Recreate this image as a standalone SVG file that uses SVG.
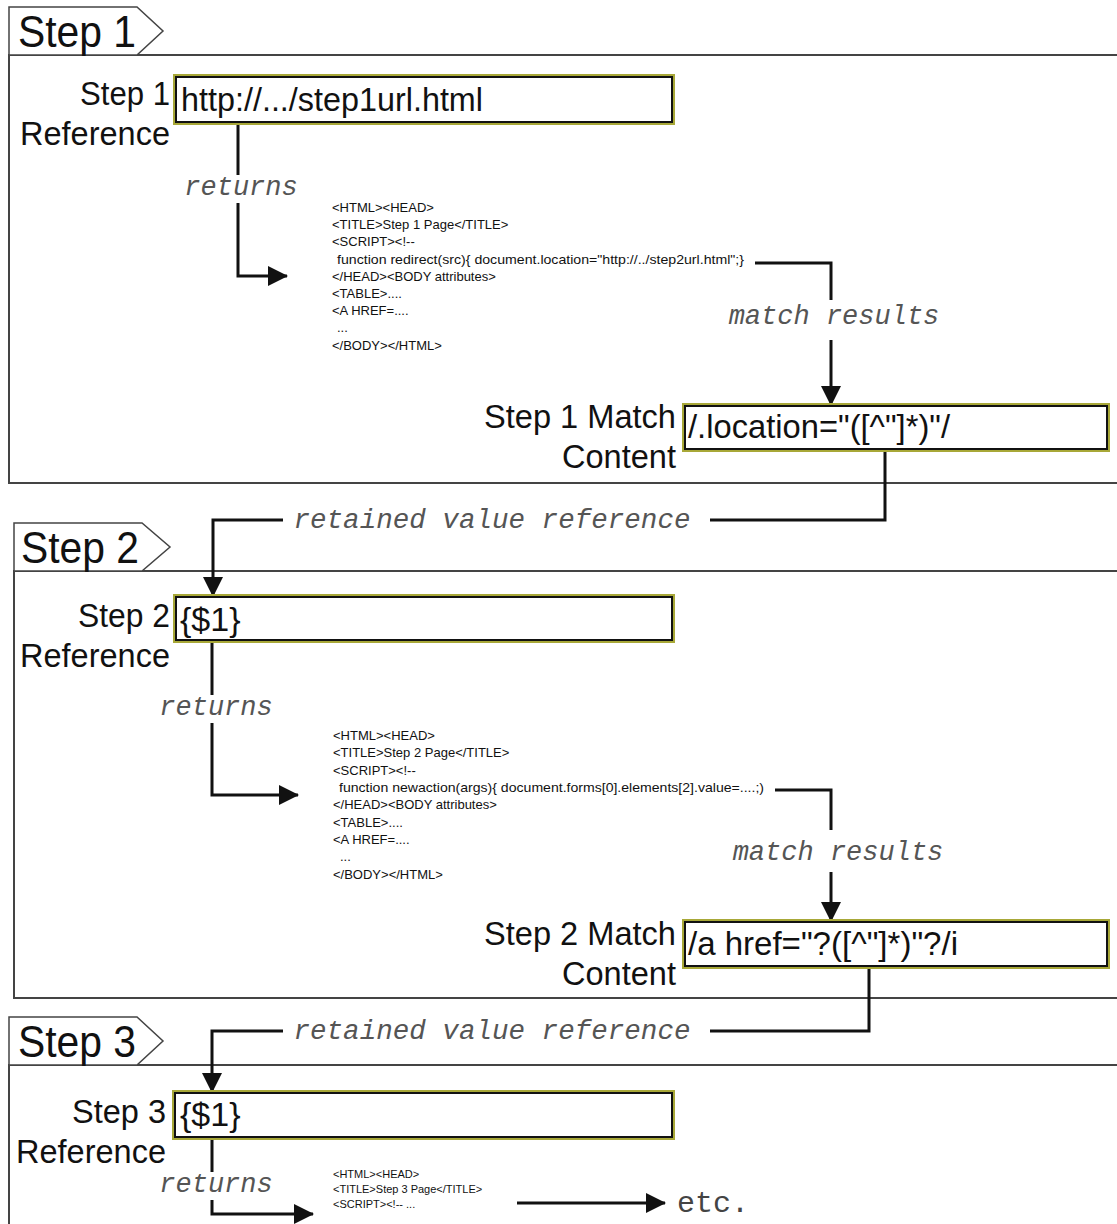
<svg xmlns="http://www.w3.org/2000/svg" width="1117" height="1224" viewBox="0 0 1117 1224">
<style>
.frame{fill:none;stroke:#444;stroke-width:2}
.tab{fill:#fff;stroke:#444;stroke-width:1.5}
.tabt{font-family:"Liberation Sans",Arial,sans-serif;font-size:45px;fill:#111}
.lbl{font-family:"Liberation Sans",Arial,sans-serif;font-size:33px;fill:#111;text-anchor:end}
.boxo{fill:#fff;stroke:#a8a838;stroke-width:4}
.boxi{fill:none;stroke:#111;stroke-width:2}
.boxt{font-family:"Liberation Sans",Arial,sans-serif;font-size:34px;fill:#111}
.html{font-family:"Liberation Sans",Arial,sans-serif;font-size:13px;fill:#111}
.html3{font-family:"Liberation Sans",Arial,sans-serif;font-size:11px;fill:#111}
.mono{font-family:"Liberation Mono","Courier New",monospace;font-style:italic;font-size:27px;fill:#555}
.etc{font-family:"Liberation Mono","Courier New",monospace;font-size:30px;fill:#444}
.ln{fill:none;stroke:#111;stroke-width:3}
</style>
<defs>
<marker id="ahb" viewBox="0 0 20 20" markerWidth="20" markerHeight="20" refX="19" refY="10" orient="auto" markerUnits="userSpaceOnUse">
<path d="M0,0 L20,10 L0,20 Z" fill="#111"/>
</marker>
</defs>
<rect width="1117" height="1224" fill="#fff"/>

<g id="section1">
<path class="frame" d="M1117,55 H9 V483 H1117"/>
<polygon class="tab" points="9,7 137,7 163,31 137,55 9,55"/>
<text class="tabt" x="18" y="47" textLength="118" lengthAdjust="spacingAndGlyphs">Step 1</text>
</g>
<g id="section2">
<path class="frame" d="M1117,571 H14 V998 H1117"/>
<polygon class="tab" points="14,523 142,523 170,547 142,571 14,571"/>
<text class="tabt" x="21" y="563" textLength="118" lengthAdjust="spacingAndGlyphs">Step 2</text>
</g>
<g id="section3">
<path class="frame" d="M1117,1065 H9 V1224"/>
<polygon class="tab" points="9,1017 137,1017 163,1041 137,1065 9,1065"/>
<text class="tabt" x="18" y="1057" textLength="118" lengthAdjust="spacingAndGlyphs">Step 3</text>
</g>

<g id="connectors">
<path class="ln" d="M238,123 V175"/>
<path class="ln" d="M238,203 V276 H287" marker-end="url(#ahb)"/>
<path class="ln" d="M755,263 H831 V300"/>
<path class="ln" d="M831,340 V405" marker-end="url(#ahb)"/>
<path class="ln" d="M885,450 V520 H710"/>
<path class="ln" d="M283,520 H213 V596" marker-end="url(#ahb)"/>
<path class="ln" d="M212,641 V695"/>
<path class="ln" d="M212,723 V795 H298" marker-end="url(#ahb)"/>
<path class="ln" d="M775,790 H831 V830"/>
<path class="ln" d="M831,872 V921" marker-end="url(#ahb)"/>
<path class="ln" d="M869,967 V1031 H710"/>
<path class="ln" d="M283,1031 H212 V1092" marker-end="url(#ahb)"/>
<path class="ln" d="M212,1138 V1172"/>
<path class="ln" d="M212,1200 V1214 H313" marker-end="url(#ahb)"/>
<path class="ln" d="M517,1203 H665" marker-end="url(#ahb)"/>
<text class="mono" x="241" y="195" text-anchor="middle">returns</text>
<text class="mono" x="834" y="324" text-anchor="middle">match results</text>
<text class="mono" x="492" y="528" text-anchor="middle" textLength="397" lengthAdjust="spacingAndGlyphs">retained value reference</text>
<text class="mono" x="216" y="715" text-anchor="middle">returns</text>
<text class="mono" x="838" y="860" text-anchor="middle">match results</text>
<text class="mono" x="492" y="1039" text-anchor="middle" textLength="397" lengthAdjust="spacingAndGlyphs">retained value reference</text>
<text class="mono" x="216" y="1192" text-anchor="middle">returns</text>
<text class="etc" x="677" y="1212">etc.</text>
</g>

<g id="step1-ref">
<text class="lbl" x="170" y="105" textLength="90" lengthAdjust="spacingAndGlyphs">Step 1</text>
<text class="lbl" x="170" y="145" textLength="150" lengthAdjust="spacingAndGlyphs">Reference</text>
<rect class="boxo" x="175" y="76" width="498" height="47"/>
<rect class="boxi" x="176" y="77" width="496" height="45"/>
<text class="boxt" x="181" y="111" textLength="302" lengthAdjust="spacingAndGlyphs">http://.../step1url.html</text>
</g>
<g id="step1-page">
<text class="html" x="332" y="212">&lt;HTML&gt;&lt;HEAD&gt;</text>
<text class="html" x="332" y="229">&lt;TITLE&gt;Step 1 Page&lt;/TITLE&gt;</text>
<text class="html" x="332" y="246">&lt;SCRIPT&gt;&lt;!--</text>
<text class="html" x="337" y="264" textLength="407" lengthAdjust="spacingAndGlyphs">function redirect(src){ document.location="http://../step2url.html";}</text>
<text class="html" x="332" y="281">&lt;/HEAD&gt;&lt;BODY attributes&gt;</text>
<text class="html" x="332" y="298">&lt;TABLE&gt;....</text>
<text class="html" x="332" y="315">&lt;A HREF=....</text>
<text class="html" x="337" y="332">...</text>
<text class="html" x="332" y="350">&lt;/BODY&gt;&lt;/HTML&gt;</text>
</g>
<g id="step1-match">
<text class="lbl" x="676" y="428" textLength="192" lengthAdjust="spacingAndGlyphs">Step 1 Match</text>
<text class="lbl" x="676" y="468" textLength="114" lengthAdjust="spacingAndGlyphs">Content</text>
<rect class="boxo" x="684" y="405" width="424" height="45"/>
<rect class="boxi" x="685" y="406" width="422" height="43"/>
<text class="boxt" x="688" y="438" textLength="262" lengthAdjust="spacingAndGlyphs">/.location="([^"]*)"/</text>
</g>

<g id="step2-ref">
<text class="lbl" x="170" y="627" textLength="92" lengthAdjust="spacingAndGlyphs">Step 2</text>
<text class="lbl" x="170" y="667" textLength="150" lengthAdjust="spacingAndGlyphs">Reference</text>
<rect class="boxo" x="175" y="596" width="498" height="45"/>
<rect class="boxi" x="176" y="597" width="496" height="43"/>
<text class="boxt" x="180" y="631">{$1}</text>
</g>
<g id="step2-page">
<text class="html" x="333" y="740">&lt;HTML&gt;&lt;HEAD&gt;</text>
<text class="html" x="333" y="757">&lt;TITLE&gt;Step 2 Page&lt;/TITLE&gt;</text>
<text class="html" x="333" y="775">&lt;SCRIPT&gt;&lt;!--</text>
<text class="html" x="339" y="792" textLength="425" lengthAdjust="spacingAndGlyphs">function newaction(args){ document.forms[0].elements[2].value=....;)</text>
<text class="html" x="333" y="809">&lt;/HEAD&gt;&lt;BODY attributes&gt;</text>
<text class="html" x="333" y="827">&lt;TABLE&gt;....</text>
<text class="html" x="333" y="844">&lt;A HREF=....</text>
<text class="html" x="340" y="861">...</text>
<text class="html" x="333" y="879">&lt;/BODY&gt;&lt;/HTML&gt;</text>
</g>
<g id="step2-match">
<text class="lbl" x="676" y="945" textLength="192" lengthAdjust="spacingAndGlyphs">Step 2 Match</text>
<text class="lbl" x="676" y="985" textLength="114" lengthAdjust="spacingAndGlyphs">Content</text>
<rect class="boxo" x="684" y="921" width="424" height="46"/>
<rect class="boxi" x="685" y="922" width="422" height="44"/>
<text class="boxt" x="688" y="955" textLength="270" lengthAdjust="spacingAndGlyphs">/a href="?([^"]*)"?/i</text>
</g>

<g id="step3-ref">
<text class="lbl" x="166" y="1123" textLength="94" lengthAdjust="spacingAndGlyphs">Step 3</text>
<text class="lbl" x="166" y="1163" textLength="150" lengthAdjust="spacingAndGlyphs">Reference</text>
<rect class="boxo" x="174" y="1092" width="499" height="46"/>
<rect class="boxi" x="175" y="1093" width="497" height="44"/>
<text class="boxt" x="180" y="1126">{$1}</text>
</g>
<g id="step3-page">
<text class="html3" x="333" y="1178">&lt;HTML&gt;&lt;HEAD&gt;</text>
<text class="html3" x="333" y="1193">&lt;TITLE&gt;Step 3 Page&lt;/TITLE&gt;</text>
<text class="html3" x="333" y="1208">&lt;SCRIPT&gt;&lt;!-- ...</text>
</g>
</svg>
